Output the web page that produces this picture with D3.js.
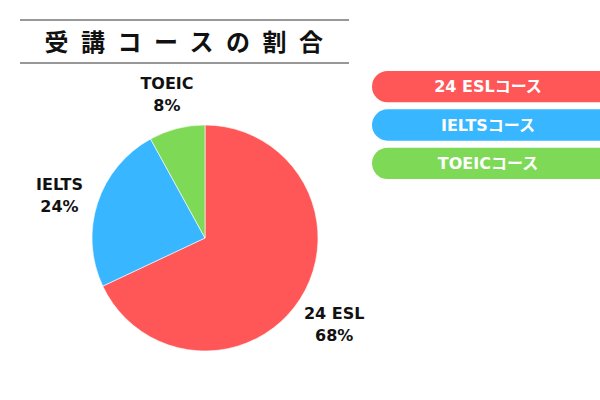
<!DOCTYPE html>
<html>
<head>
<meta charset="utf-8">
<script src="https://cdn.jsdelivr.net/npm/d3@7"></script>
<style>
  body { margin: 0; background: #fff; }
  text { font-family: "DejaVu Sans", "Noto Sans CJK JP", sans-serif; font-weight: 700; }
  text.title { font-family: "Noto Sans CJK JP", sans-serif; }
</style>
</head>
<body>
<svg></svg>
<script>
let title = "受講コースの割合";
let courses = ["24 ESL", "IELTS", "TOEIC"];
let shares = [68, 24, 8]; // percent
let legendLabels = ["24 ESLコース", "IELTSコース", "TOEICコース"];
let colors = ["#FF5757", "#38B6FF", "#7ED957"];

let width = 600;
let height = 400;
let cx = 205;
let cy = 238;
let radius = 113;
let labelRadius = 153;

let svg = d3.select("svg").attr("width", width).attr("height", height);

// title with rules above and below
svg.append("line").attr("x1", 20).attr("x2", 349).attr("y1", 20).attr("y2", 20)
  .attr("stroke", "#333").attr("stroke-width", 1.2);
svg.append("line").attr("x1", 20).attr("x2", 349).attr("y1", 63).attr("y2", 63)
  .attr("stroke", "#333").attr("stroke-width", 1.2);
svg.append("text")
  .attr("class", "title")
  .attr("x", 190).attr("y", 51)
  .attr("text-anchor", "middle")
  .attr("font-size", 24)
  .attr("letter-spacing", 12.5)
  .attr("fill", "#111")
  .text(title);

// pie
let data = courses.map((c, i) => ({ name: c, value: shares[i], color: colors[i] }));
let pie = d3.pie().sort(null).value(d => d.value);
let arcs = pie(data);
let arc = d3.arc().innerRadius(0).outerRadius(radius);
let labelArc = d3.arc().innerRadius(labelRadius).outerRadius(labelRadius);

let g = svg.append("g").attr("transform", "translate(" + cx + "," + cy + ")");

g.selectAll("path")
  .data(arcs)
  .enter()
  .append("path")
  .attr("d", arc)
  .attr("fill", d => d.data.color)
  .attr("stroke", "#fff")
  .attr("stroke-width", 0.6);

let labels = g.selectAll("text.slice-label")
  .data(arcs)
  .enter()
  .append("text")
  .attr("class", "slice-label")
  .attr("text-anchor", "middle")
  .attr("font-size", 16)
  .attr("fill", "#111")
  .attr("transform", d => "translate(" + labelArc.centroid(d) + ")");

labels.append("tspan").attr("x", 0).attr("dy", "-0.05em").text(d => d.data.name);
labels.append("tspan").attr("x", 0).attr("dy", "1.35em").text(d => d.data.value + "%");

// legend pills
let legendY = d3.scaleBand().domain(legendLabels).range([71, 179]).paddingInner(0.185).paddingOuter(0);
let pillH = legendY.bandwidth();

let legend = svg.selectAll("g.legend")
  .data(legendLabels)
  .enter()
  .append("g")
  .attr("class", "legend")
  .attr("transform", d => "translate(372," + legendY(d) + ")");

legend.append("rect")
  .attr("width", 260)
  .attr("height", pillH)
  .attr("rx", pillH / 2)
  .attr("fill", (d, i) => colors[i]);

legend.append("text")
  .attr("x", 116)
  .attr("y", pillH / 2)
  .attr("dy", "0.36em")
  .attr("text-anchor", "middle")
  .attr("font-size", 16)
  .attr("fill", "#fff")
  .text(d => d);
</script>
</body>
</html>
